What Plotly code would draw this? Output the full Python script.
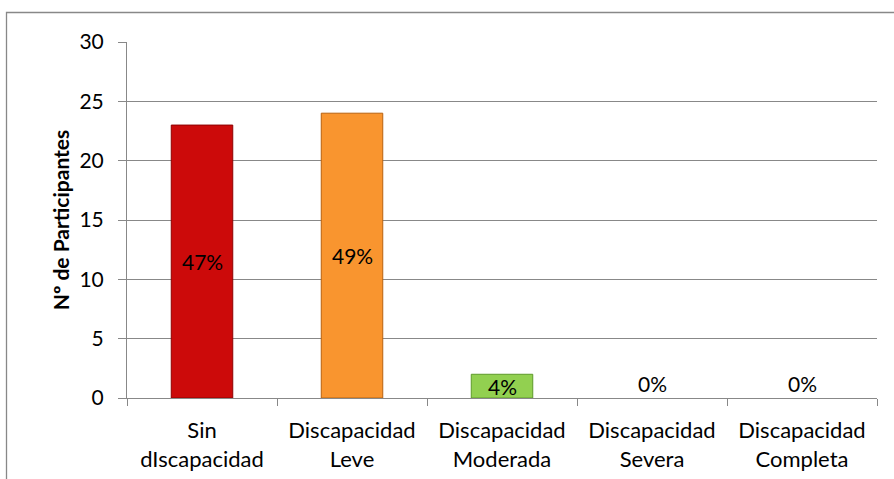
import plotly.graph_objects as go

categories = ["Sin<br>dIscapacidad", "Discapacidad<br>Leve", "Discapacidad<br>Moderada",
              "Discapacidad<br>Severa", "Discapacidad<br>Completa"]
values = [23, 24, 2, 0, 0]
colors = ["#CC0A0A", "#F9952F", "#92D050", "#92D050", "#92D050"]
edge_colors = ["#8E0000", "#B8620F", "#5E9A2A", "#5E9A2A", "#5E9A2A"]
y_ticks = [0, 5, 10, 15, 20, 25, 30]
y_title = "Nº de Participantes"

total = sum(values)
pct_labels = [f"{round(v / total * 100)}%" for v in values]
edge_widths = [1 if v > 0 else 0 for v in values]

FONT = "Lato"

fig = go.Figure()
fig.add_trace(go.Bar(
    x=categories, y=values,
    marker=dict(color=colors, line=dict(color=edge_colors, width=edge_widths)),
    width=0.41,
    hoverinfo="skip",
))

for c, v, lab in zip(categories, values, pct_labels):
    fig.add_annotation(
        x=c, y=v / 2 if v > 0 else 0, xref="x", yref="y",
        text=lab, showarrow=False,
        yshift=0 if v > 0 else 15,
        font=dict(family=FONT, size=21, color="#000000"),
    )

W, H = 894, 479
ml, mr, mt, mb = 127, 17, 42, 81
pw, ph = W - ml - mr, H - mt - mb

# outer chart frame (left and top edges visible)
x_left = (6.5 - ml) / pw
y_top = 1 + (mt - 12.5) / ph
fig.add_shape(type="path", xref="paper", yref="paper",
              path=f"M {x_left} -1 L {x_left} {y_top} L 2 {y_top}",
              line=dict(color="#888888", width=1.3))

fig.update_layout(
    width=W, height=H,
    margin=dict(l=ml, r=mr, t=mt, b=mb),
    paper_bgcolor="white", plot_bgcolor="white",
    showlegend=False,
    bargap=0.59,
    font=dict(family=FONT, size=21, color="#000000"),
)
fig.update_xaxes(
    type="category", automargin=False,
    showline=True, linecolor="#888888", linewidth=1,
    ticks="outside", tickson="boundaries", ticklen=7, tickcolor="#888888",
    tickfont=dict(family=FONT, size=22, color="#000000"),
    ticklabelstandoff=13,
    showgrid=False,
)
fig.update_yaxes(
    range=[0, 30], tickvals=y_ticks, automargin=False,
    showline=True, linecolor="#888888", linewidth=1,
    ticks="outside", ticklen=8, tickcolor="#888888",
    ticklabelstandoff=10,
    showgrid=True, gridcolor="#888888", gridwidth=1,
    zeroline=False,
    tickfont=dict(family=FONT, size=21, color="#000000"),
    title=dict(text=f"<b>{y_title}</b>", font=dict(family=FONT, size=21, color="#000000"), standoff=4),
)

fig.write_html("out.html")
